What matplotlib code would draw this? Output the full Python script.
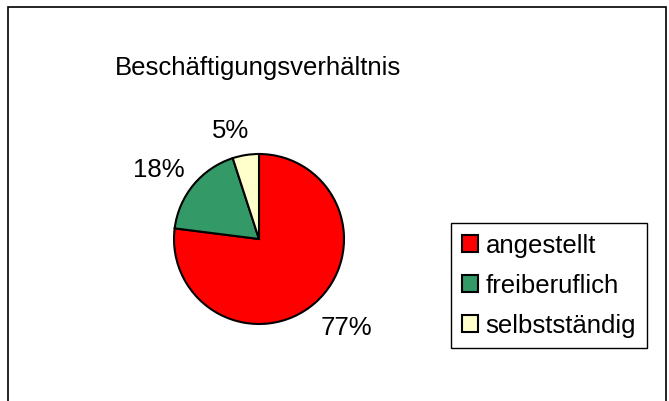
import numpy as np
import matplotlib.pyplot as plt
from matplotlib.patches import Rectangle

# data
categories = ["angestellt", "freiberuflich", "selbstständig"]
shares = [77, 18, 5]
colors = ["#FF0000", "#339966", "#FFFFCC"]
title = "Beschäftigungsverhältnis"

plt.rcParams["font.family"] = ["Liberation Sans", "DejaVu Sans"]

W, H = 669, 401
fig = plt.figure(figsize=(W / 100, H / 100), dpi=100)

# outer chart border (runs off the bottom edge)
fig.patches.append(Rectangle((8 / W, -0.05), 658 / W, (H - 7) / H + 0.05,
                             transform=fig.transFigure, fill=False,
                             edgecolor="black", linewidth=1.2))

# pie axes: centre (259, 239) px, radius 85 px -> 4 units span 340 px
cx, cy, r = 259, 239, 85
ax = fig.add_axes([(cx - 2 * r) / W, (H - cy - 2 * r) / H, 4 * r / W, 4 * r / H])

wedges, _, pct = ax.pie(
    shares, colors=colors, startangle=90, counterclock=False,
    autopct="%1.0f%%", pctdistance=1.4,
    wedgeprops=dict(edgecolor="black", linewidth=1.5),
    textprops=dict(fontsize=18.5),
)
ax.set_xlim(-2, 2)
ax.set_ylim(-2, 2)
ax.axis("off")

# label placement similar to Excel: radial distance and small angular shift
dists = [1.47, 1.43, 1.31]
shifts = [3, 5, 6]
for w, t, d, s in zip(wedges, pct, dists, shifts):
    ang = np.deg2rad((w.theta1 + w.theta2) / 2 + s)
    t.set_position((d * np.cos(ang), d * np.sin(ang)))
    t.set_ha("center")
    t.set_va("center")

fig.text(115 / W, 1 - 68 / H, title, fontsize=18.5, ha="left", va="center")

leg = fig.legend(wedges, categories, loc="upper left",
                 bbox_to_anchor=(451 / W, 1 - 223 / H), borderaxespad=0,
                 fontsize=18.5, handlelength=0.65, handleheight=0.65,
                 handletextpad=0.28, labelspacing=0.62, borderpad=0.42,
                 fancybox=False, shadow=False, framealpha=1)
leg.get_frame().set_edgecolor("black")
leg.get_frame().set_linewidth(1.0)

fig.savefig("out.png", dpi=100)
